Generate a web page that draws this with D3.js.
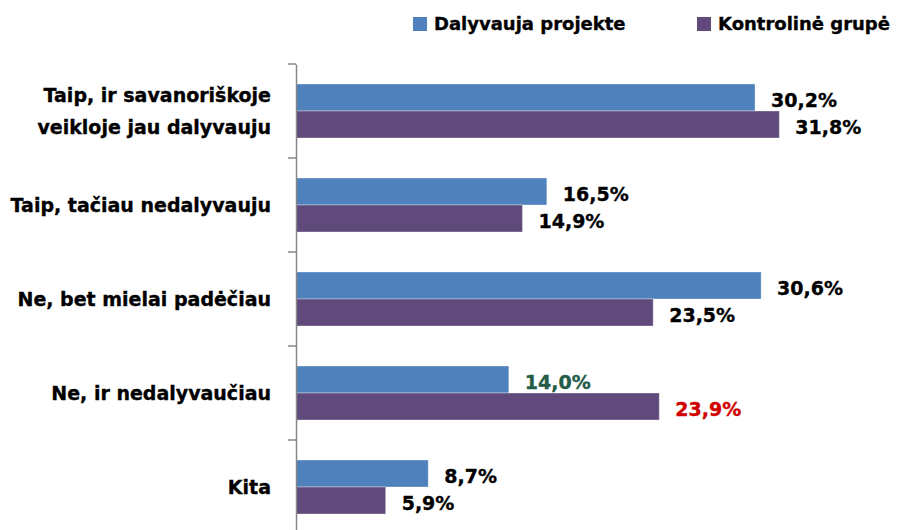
<!DOCTYPE html>
<html>
<head>
<meta charset="utf-8">
<script src="https://cdn.jsdelivr.net/npm/d3@7"></script>
<style>
  body { margin: 0; background: #fff; }
  svg text { font-family: "DejaVu Sans", sans-serif; font-weight: bold; stroke-width: 0.35px; }
</style>
</head>
<body>
<svg id="chart" width="905" height="530"></svg>
<script>
// Survey answers (categories, top to bottom)
const categories = [
  ["Taip, ir savanoriškoje", "veikloje jau dalyvauju"],
  ["Taip, tačiau nedalyvauju"],
  ["Ne, bet mielai padėčiau"],
  ["Ne, ir nedalyvaučiau"],
  ["Kita"]
];
const seriesNames = ["Dalyvauja projekte", "Kontrolinė grupė"];
const participants = [30.2, 16.5, 30.6, 14.0, 8.7];
const controlGroup = [31.8, 14.9, 23.5, 23.9, 5.9];
const labelColorsParticipants = ["#000", "#000", "#000", "#245c48", "#000"];
const labelColorsControl = ["#000", "#000", "#000", "#d00000", "#000"];
const seriesColors = ["#4f81bd", "#604a7b"];

const svg = d3.select("#chart");
const fmt = v => d3.format(".1f")(v).replace(".", ",") + "%";

const x = d3.scaleLinear().domain([0, 40]).range([296, 904]);
const y0 = d3.scaleBand().domain(d3.range(categories.length)).range([64, 534]);
const y1 = d3.scaleBand().domain([0, 1]).range([0, y0.bandwidth()]).paddingOuter(0.74);

const rows = categories.map((c, i) => ({
  i,
  values: [
    { s: 0, v: participants[i], color: labelColorsParticipants[i] },
    { s: 1, v: controlGroup[i], color: labelColorsControl[i] }
  ]
}));

// Bars and value labels
const g = svg.selectAll("g.cat").data(rows).join("g")
  .attr("class", "cat")
  .attr("transform", d => `translate(0,${y0(d.i)})`);

g.selectAll("rect").data(d => d.values).join("rect")
  .attr("x", x(0))
  .attr("y", d => y1(d.s))
  .attr("width", d => x(d.v) - x(0))
  .attr("height", y1.bandwidth())
  .attr("fill", d => seriesColors[d.s])
  .attr("stroke", "rgba(255,255,255,0.35)")
  .attr("stroke-width", 1);

g.selectAll("text.val").data(d => d.values).join("text")
  .attr("class", "val")
  .attr("x", d => x(d.v) + 16)
  .attr("y", d => y1(d.s) + y1.bandwidth() / 2)
  .attr("dy", "0.5em")
  .attr("font-size", 19)
  .attr("fill", d => d.color)
  .attr("stroke", d => d.color)
  .text(d => fmt(d.v));

// Category axis
const axis = d3.axisLeft(y0).tickSize(0).tickFormat("");
const axisG = svg.append("g").attr("transform", `translate(${x(0)},0)`).call(axis);
axisG.select(".domain").attr("stroke", "#868686").attr("stroke-width", 1.5);
axisG.selectAll(".tick").remove();
axisG.selectAll("line.sep").data(d3.range(categories.length + 1)).join("line")
  .attr("class", "sep")
  .attr("x1", -8).attr("x2", 0)
  .attr("y1", i => i < categories.length ? y0(i) : y0.range()[1])
  .attr("y2", i => i < categories.length ? y0(i) : y0.range()[1])
  .attr("stroke", "#868686").attr("stroke-width", 1.5);

// Category labels
svg.selectAll("text.cat").data(categories).join("text")
  .attr("class", "cat")
  .attr("text-anchor", "end")
  .attr("font-size", 19)
  .attr("fill", "#000")
  .attr("stroke", "#000")
  .attr("transform", (d, i) => `translate(271,${y0(i) + y0.bandwidth() / 2})`)
  .each(function(lines) {
    const t = d3.select(this);
    const lh = 32;
    lines.forEach((line, k) => {
      t.append("tspan")
        .attr("x", 0)
        .attr("y", (k - (lines.length - 1) / 2) * lh)
        .attr("dy", "0.35em")
        .text(line);
    });
  });

// Legend
const legendX = [413, 697];
const legend = svg.selectAll("g.legend").data(seriesNames).join("g")
  .attr("class", "legend")
  .attr("transform", (d, i) => `translate(${legendX[i]},24)`);
legend.append("rect")
  .attr("x", 0).attr("y", -7).attr("width", 14).attr("height", 14)
  .attr("fill", (d, i) => seriesColors[i]);
legend.append("text")
  .attr("x", 21).attr("dy", "0.35em")
  .attr("font-size", 18)
  .attr("fill", "#000")
  .attr("stroke", "#000")
  .text(d => d);
</script>
</body>
</html>
